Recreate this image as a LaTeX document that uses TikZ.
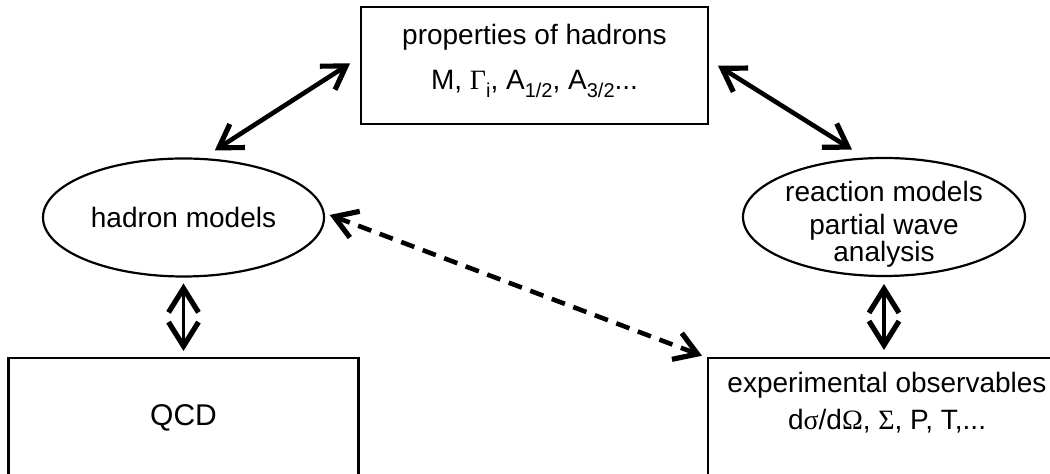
\documentclass[tikz,border=0pt]{standalone}
\usepackage{fontspec}
\setmainfont{Liberation Sans}
\newfontfamily\grk{Liberation Serif}
\usetikzlibrary{shapes.geometric}
\usetikzlibrary{arrows.meta}
\tikzset{>={Straight Barb[length=11pt,width=14pt,line width=2.6pt]}}
\newcommand\lowidx[1]{\raisebox{-4pt}{\fontsize{10}{10}\selectfont #1}}

\begin{document}
\begin{tikzpicture}[
    x = 0.5pt, y = -0.5pt,
    font = \fontsize{14}{17}\selectfont,
    box/.style = {draw, line width=1.1pt, inner sep=0pt, outer sep=0pt},
    oval/.style = {draw, ellipse, line width=1.1pt, inner sep=0pt, outer sep=0pt,
        minimum width=140.5pt, minimum height=59pt},
    txt/.style = {align=center, inner sep=0pt},
    link/.style = {line width=2.3pt, <->},
    dashlink/.style = {link, dash pattern=on 7pt off 4.5pt},
    updown/.style = {line width=1.6pt,
        {Straight Barb[length=12pt,width=15pt,line width=2.6pt]}-{Straight Barb[length=12pt,width=15pt,line width=2.6pt]}}
  ]
  \useasboundingbox (0,0) rectangle (1050,474);
  \clip (0,0) rectangle (1050,474);

  \node[box, minimum width=173.5pt, minimum height=58.5pt] (props) at (534.5,65.5) {};
  \node[txt, font=\fontsize{14}{22.5}\selectfont] (props-txt) at (534.5,61)
    {properties of hadrons\\M, {\grk Γ}\lowidx{i}, A\lowidx{1/2}, A\lowidx{3/2}...};

  \node[oval] (hadron) at (183.5,217.5) {hadron models};
  \node[oval, minimum width=141pt] (reaction) at (884,217) {};
  \node[txt, font=\fontsize{14}{16.5}\selectfont] (reaction-txt) at (884,224)
    {reaction models\\partial wave\\[-3.2pt]analysis};

  \node[box, minimum width=175pt, minimum height=60pt, font=\fontsize{15}{18}\selectfont] (qcd) at (183.5,418) {QCD};
  \node[box, minimum width=176pt, minimum height=60pt] (exp) at (884,418) {};
  \node[txt, font=\fontsize{14}{18.5}\selectfont] (exp-txt) at (887,403)
    {experimental observables\\d{\grk σ}/d{\grk Ω}, {\grk Σ}, P, T,...};

  \draw[link, shorten <=8pt, shorten >=6.5pt] (hadron.73) -- (props.177);
  \draw[link, shorten <=5.9pt, shorten >=8.3pt] (props.2) -- (reaction.107);
  \draw[dashlink, shorten <=3.3pt, shorten >=3.2pt] (hadron.2) -- (exp.north west);
  \draw[updown, shorten <=3.5pt, shorten >=3.5pt] (hadron.south) -- (qcd.north);
  \draw[updown, shorten <=4pt, shorten >=4pt] (reaction.south) -- (exp.north);
\end{tikzpicture}
\end{document}
